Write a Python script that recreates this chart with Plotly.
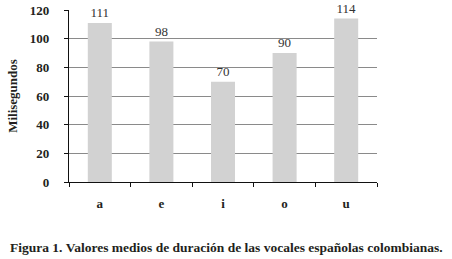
import plotly.graph_objects as go

categories = ["a", "e", "i", "o", "u"]
values = [111, 98, 70, 90, 114]
y_ticks = [0, 20, 40, 60, 80, 100, 120]

FONT = "Liberation Serif"
INK = "#231f20"
LABEL = "#333333"

fig = go.Figure()
fig.add_trace(go.Bar(
    x=categories, y=values,
    marker=dict(color="#d2d2d2", line=dict(width=0)),
    text=[str(v) for v in values], textposition="outside",
    textfont=dict(family=FONT, size=13, color=LABEL),
    outsidetextfont=dict(family=FONT, size=13, color=LABEL),
    cliponaxis=False, width=0.39, hoverinfo="skip",
))

fig.update_layout(
    width=452, height=259,
    margin=dict(l=69, r=75, t=10, b=77, autoexpand=False),
    paper_bgcolor="white", plot_bgcolor="white",
    showlegend=False,
    font=dict(family=FONT, color=INK),
    xaxis=dict(
        automargin=False,
        showline=True, linecolor="#111111", linewidth=1.3,
        ticks="outside", ticklen=4, tickcolor="#111111",
        tickson="boundaries",
        tickfont=dict(family=FONT, size=13, color=INK, weight="bold"),
        ticklabelstandoff=9,
    ),
    yaxis=dict(
        automargin=False,
        range=[0, 120], tickvals=y_ticks,
        showline=True, linecolor="#111111", linewidth=1.3,
        ticks="outside", ticklen=4, tickcolor="#111111",
        showgrid=True, gridcolor="#8a8a8a", gridwidth=1,
        zeroline=False,
        tickfont=dict(family=FONT, size=13, color=INK, weight="bold"),
        ticklabelstandoff=12,
        title=dict(text="Milisegundos", standoff=9,
                   font=dict(family=FONT, size=13, color=INK, weight="bold")),
    ),
)

fig.add_annotation(
    text="Figura 1. Valores medios de duración de las vocales españolas colombianas.",
    xref="paper", yref="paper", x=-61/308, y=-65/172, xanchor="left", yanchor="middle",
    showarrow=False, font=dict(family=FONT, size=13.5, color=INK, weight="bold"),
)

fig.write_html("out.html", config={"displayModeBar": False},
               post_script="document.body.style.margin='0';")
